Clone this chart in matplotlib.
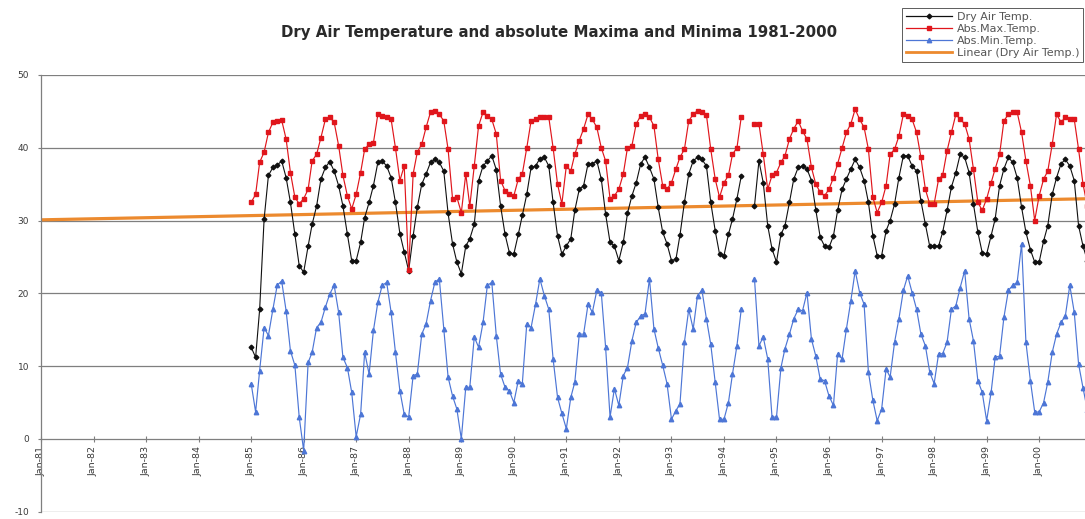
import numpy as np
import pandas as pd
import matplotlib
matplotlib.use("Agg")
import matplotlib.pyplot as plt
import matplotlib.dates as mdates
from matplotlib.lines import Line2D

nan = np.nan

# ---- data (monthly, Jan 1985 .. Dec 2000) ----
start_month = "1985-01-01"

dry_air = [
    12.6, 11.2, 17.8, 30.2, 36.2, 37.3, 37.6, 38.2, 35.9, 32.5, 28.1, 23.8,  # 1985
    22.9, 26.5, 29.5, 32.0, 35.7, 37.3, 38.1, 36.8, 34.8, 32.0, 28.1, 24.5,  # 1986
    24.5, 27.0, 30.4, 32.5, 34.8, 38.0, 38.2, 37.5, 35.9, 32.5, 28.2, 25.7,  # 1987
    23.1, 27.9, 31.8, 35.0, 36.4, 38.0, 38.4, 38.0, 36.8, 31.0, 26.8, 24.3,  # 1988
    22.7, 26.5, 27.5, 29.5, 35.5, 37.5, 38.2, 38.9, 37.0, 32.0, 28.1, 25.6,  # 1989
    25.4, 28.1, 30.7, 33.6, 37.3, 37.5, 38.5, 38.7, 37.5, 32.5, 27.9, 25.4,  # 1990
    26.5, 27.5, 31.4, 34.3, 34.8, 37.8, 37.8, 38.2, 35.7, 30.9, 27.0, 26.5,  # 1991
    24.5, 27.0, 31.0, 33.4, 35.2, 37.8, 38.7, 37.3, 35.7, 31.8, 28.4, 26.8,  # 1992
    24.5, 24.7, 28.0, 32.5, 36.4, 38.2, 38.7, 38.4, 37.5, 32.5, 28.6, 25.4,  # 1993
    25.2, 28.1, 30.2, 33.0, 36.1, nan,  nan,  32.0, 38.2, 35.2, 29.3, 26.1,  # 1994
    24.3, 28.1, 29.3, 32.5, 35.7, 37.3, 37.5, 37.1, 35.5, 31.5, 27.7, 26.5,  # 1995
    26.3, 27.9, 31.4, 34.3, 35.7, 37.1, 38.4, 37.3, 35.5, 32.5, 27.9, 25.2,  # 1996
    25.2, 28.6, 30.0, 32.3, 35.9, 38.9, 38.9, 37.5, 36.8, 32.7, 29.5, 26.5,  # 1997
    26.5, 26.5, 28.4, 31.4, 34.6, 36.6, 39.1, 38.7, 36.6, 32.3, 28.4, 25.6,  # 1998
    25.4, 27.9, 30.2, 34.8, 37.1, 38.7, 38.0, 35.9, 31.8, 28.4, 26.0, 24.3,  # 1999
    24.3, 27.2, 29.3, 33.6, 35.9, 37.8, 38.4, 37.5, 35.5, 29.3, 26.5, 24.5,  # 2000
]

abs_max = [
    32.5, 33.6, 38.0, 39.4, 42.1, 43.5, 43.7, 43.8, 41.2, 36.6, 33.2, 32.3,  # 1985
    33.0, 34.3, 38.2, 39.1, 41.4, 43.9, 44.2, 43.5, 40.3, 36.2, 33.4, 31.6,  # 1986
    33.6, 36.6, 39.8, 40.5, 40.7, 44.6, 44.4, 44.2, 43.9, 40.0, 35.5, 37.5,  # 1987
    23.2, 36.4, 39.4, 40.5, 42.8, 44.9, 45.1, 44.6, 43.7, 39.8, 33.0, 33.2,  # 1988
    31.1, 36.4, 32.0, 37.5, 43.0, 44.9, 44.4, 43.9, 41.9, 35.5, 34.1, 33.6,  # 1989
    33.4, 35.7, 36.4, 40.0, 43.7, 43.9, 44.2, 44.2, 44.2, 40.0, 35.0, 32.3,  # 1990
    37.5, 36.8, 39.1, 41.0, 42.6, 44.6, 43.9, 42.8, 40.0, 38.2, 33.0, 33.4,  # 1991
    34.3, 36.4, 40.0, 40.3, 43.3, 44.4, 44.6, 44.2, 43.0, 38.4, 34.8, 34.3,  # 1992
    35.2, 37.1, 38.7, 39.8, 43.7, 44.6, 45.1, 44.9, 44.5, 39.8, 35.7, 33.2,  # 1993
    35.2, 36.2, 39.1, 40.0, 44.2, nan,  nan,  43.3, 43.3, 39.1, 34.3, 36.2,  # 1994
    36.6, 38.0, 38.9, 41.2, 42.6, 43.7, 42.3, 41.2, 37.3, 35.0, 33.9, 33.4,  # 1995
    34.3, 35.9, 37.8, 40.0, 42.1, 43.3, 45.3, 43.9, 42.8, 39.8, 33.2, 31.1,  # 1996
    32.5, 34.8, 39.1, 39.8, 41.6, 44.6, 44.4, 43.9, 42.1, 38.7, 34.3, 32.3,  # 1997
    32.3, 35.7, 36.2, 39.6, 42.1, 44.6, 43.9, 43.3, 41.2, 37.1, 32.5, 31.4,  # 1998
    33.0, 35.2, 37.1, 39.1, 43.7, 44.6, 44.9, 44.9, 42.1, 38.2, 34.8, 30.0,  # 1999
    33.4, 35.7, 36.8, 40.5, 44.6, 43.5, 44.2, 43.9, 43.9, 39.8, 35.0, 32.0,  # 2000
]

abs_min = [
    7.6, 3.7, 9.4, 15.3, 14.2, 17.8, 21.1, 21.7, 17.6, 12.1, 10.1, 3.0,     # 1985
    -1.6, 10.5, 11.9, 15.3, 16.0, 18.1, 19.9, 21.1, 17.4, 11.2, 9.8, 6.4,   # 1986
    0.3, 3.4, 11.9, 8.9, 14.9, 18.8, 21.1, 21.5, 17.4, 11.9, 6.6, 3.4,      # 1987
    3.0, 8.7, 8.9, 14.4, 15.8, 19.0, 21.5, 22.0, 15.1, 8.5, 5.9, 4.1,       # 1988
    0.0, 7.1, 7.1, 14.0, 12.6, 16.0, 21.1, 21.5, 14.2, 8.9, 7.1, 6.6,       # 1989
    5.0, 8.0, 7.6, 15.8, 15.3, 18.5, 22.0, 19.7, 17.8, 11.0, 5.7, 3.5,      # 1990
    1.4, 5.7, 7.8, 14.4, 14.4, 18.5, 17.4, 20.4, 20.1, 12.6, 3.0, 6.9,      # 1991
    4.6, 8.7, 9.8, 13.5, 16.0, 16.9, 17.2, 22.0, 15.1, 12.5, 10.1, 7.6,     # 1992
    2.7, 3.9, 4.8, 13.3, 17.8, 15.1, 19.7, 20.4, 16.5, 13.0, 7.8, 2.7,      # 1993
    2.7, 5.0, 8.9, 12.8, 17.8, nan, nan, 22.0, 12.8, 14.0, 11.0, 3.0,       # 1994
    3.0, 9.8, 12.4, 14.4, 16.5, 17.8, 17.6, 20.1, 13.7, 11.4, 8.2, 8.0,     # 1995
    5.9, 4.6, 11.7, 11.0, 15.1, 19.0, 23.1, 20.1, 18.5, 9.2, 5.3, 2.5,      # 1996
    4.1, 9.6, 8.5, 13.3, 16.5, 20.4, 22.4, 20.1, 17.8, 14.4, 12.8, 9.2,     # 1997
    7.6, 11.7, 11.7, 13.3, 17.8, 18.3, 20.8, 23.1, 16.5, 13.5, 8.0, 6.4,    # 1998
    2.5, 6.4, 11.2, 11.4, 16.7, 20.4, 21.1, 21.5, 26.8, 13.3, 8.0, 3.7,     # 1999
    3.7, 5.0, 7.8, 11.9, 14.4, 16.0, 16.9, 21.1, 17.4, 10.3, 7.0, 4.0,      # 2000
]

trend_dates = ["1981-01-01", "2000-12-01"]
trend_values = [30.1, 33.0]

title = "Dry Air Temperature and absolute Maxima and Minima 1981-2000"
legend_labels = ["Dry Air Temp.", "Abs.Max.Temp.", "Abs.Min.Temp.", "Linear (Dry Air Temp.)"]
y_ticks = [-10, 0, 10, 20, 30, 40, 50]
tick_years = list(range(1981, 2001))

# ---- figure ----
W, H = 1085, 519
fig = plt.figure(figsize=(W / 100, H / 100), dpi=100)
ax_left, ax_right = 41, 1085
ax_top, ax_bot = 75, 511.7
ax = fig.add_axes([ax_left / W, 1 - ax_bot / H, (ax_right - ax_left) / W, (ax_bot - ax_top) / H])

months = pd.date_range(start_month, periods=len(dry_air), freq="MS")

c_black = "#101010"
c_red = "#e0161c"
c_blue = "#4d76d6"
c_orange = "#ec8a2e"
grid_c = "#7f7f7f"

ax.plot(pd.to_datetime(trend_dates), trend_values, color=c_orange, lw=2.3, zorder=2,
        solid_capstyle="butt")
ax.plot(months, abs_min, color=c_blue, lw=0.85, marker="^", ms=3.2, mec=c_blue, mfc=c_blue, zorder=3)
ax.plot(months, dry_air, color=c_black, lw=0.8, marker="D", ms=2.4, mec=c_black, mfc=c_black, zorder=4)
ax.plot(months, abs_max, color=c_red, lw=0.85, marker="s", ms=2.8, mec=c_red, mfc=c_red, zorder=5)

# axes limits
px_per_year = 52.54
x0 = mdates.date2num(pd.Timestamp("1981-01-01"))
x1 = x0 + (ax_right - ax_left) / px_per_year * 365.25
ax.set_xlim(x0, x1)
ax.set_ylim(-10, 50)

# y axis
ax.set_yticks(y_ticks)
ax.set_yticklabels([str(v) for v in y_ticks])
ax.tick_params(axis="y", direction="out", length=2.5, width=0.8, color=grid_c,
               labelsize=6.5, labelcolor="#3a3a3a", pad=6)
for v in y_ticks:
    if v != 0:
        ax.axhline(v, color=grid_c, lw=0.9, zorder=1)

# x axis at zero
ax.spines["bottom"].set_position(("data", 0))
ax.spines["bottom"].set_color(grid_c)
ax.spines["bottom"].set_linewidth(0.9)
ax.spines["left"].set_color(grid_c)
ax.spines["left"].set_linewidth(0.9)
ax.spines["top"].set_visible(False)
ax.spines["right"].set_visible(False)
ax.set_xticks([pd.Timestamp(f"{y}-01-01") for y in tick_years])
ax.set_xticklabels([f"Jan-{str(y)[2:]}" for y in tick_years], rotation=90)
ax.tick_params(axis="x", direction="inout", length=4, width=0.8, color=grid_c,
               labelsize=6.8, labelcolor="#3a3a3a", pad=3)

# title
fig.text(559.5 / W, 1 - 33 / H, title, ha="center", va="center",
         fontsize=10.8, fontweight="bold", color="#2a2a2a")

# legend
handles = [
    Line2D([], [], color=c_black, lw=0.9, marker="D", ms=2.4),
    Line2D([], [], color=c_red, lw=0.9, marker="s", ms=2.8),
    Line2D([], [], color=c_blue, lw=0.9, marker="^", ms=3.2),
    Line2D([], [], color=c_orange, lw=2.0),
]
leg = fig.legend(handles, legend_labels, loc="upper right",
                 bbox_to_anchor=(1083 / W, 1 - 8 / H), bbox_transform=fig.transFigure,
                 fontsize=8.0, frameon=True, fancybox=False, borderpad=0.35,
                 handlelength=4.2, handletextpad=0.4, labelspacing=0.18, borderaxespad=0)
leg.get_frame().set_edgecolor("#333333")
leg.get_frame().set_linewidth(0.7)
for t in leg.get_texts():
    t.set_color("#555555")

fig.savefig("out.png", dpi=100)
